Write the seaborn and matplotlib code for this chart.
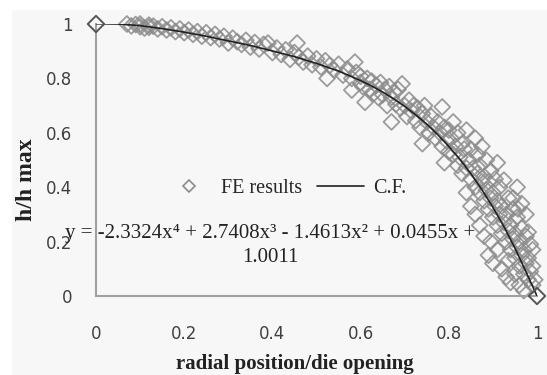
import matplotlib
matplotlib.use("Agg")
import matplotlib.pyplot as plt
import matplotlib.patches as mpatches
from matplotlib.lines import Line2D
import pandas as pd
import seaborn as sns

# FE results
fe_x = [0.07, 0.08, 0.09, 0.10, 0.10, 0.11, 0.12, 0.12, 0.13, 0.14, 0.15, 0.16, 0.17, 0.18,
        0.19, 0.20, 0.21, 0.22, 0.23, 0.24, 0.25, 0.26, 0.27, 0.28, 0.29, 0.30, 0.31, 0.32,
        0.33, 0.34, 0.35, 0.36, 0.37, 0.38, 0.39, 0.40, 0.41, 0.42, 0.43, 0.44, 0.45, 0.456,
        0.46, 0.47, 0.48, 0.49, 0.50, 0.51, 0.52, 0.524, 0.53, 0.54, 0.55, 0.56, 0.57, 0.58,
        0.58, 0.587, 0.59, 0.60, 0.60,
        0.605, 0.61, 0.615, 0.62, 0.625, 0.63, 0.635, 0.64, 0.645, 0.65, 0.655, 0.66, 0.665,
        0.67, 0.67, 0.675, 0.68, 0.685, 0.69, 0.694, 0.70, 0.705, 0.71, 0.715, 0.72, 0.725,
        0.73, 0.735, 0.74, 0.74, 0.745, 0.75, 0.755, 0.76, 0.765, 0.77, 0.775, 0.78, 0.785,
        0.785, 0.79, 0.79, 0.795, 0.80, 0.80,
        0.805, 0.81, 0.81, 0.815, 0.82, 0.82, 0.825, 0.83, 0.83, 0.835, 0.84, 0.84, 0.845,
        0.85, 0.85, 0.855, 0.86, 0.86, 0.865, 0.865, 0.87, 0.87, 0.875, 0.875, 0.88, 0.88,
        0.885, 0.885, 0.89, 0.89, 0.895, 0.895, 0.90, 0.90, 0.905, 0.905, 0.91, 0.91, 0.915,
        0.915, 0.92, 0.92, 0.925, 0.925, 0.93, 0.93, 0.935, 0.935, 0.94, 0.94, 0.945, 0.945,
        0.95, 0.95, 0.955, 0.955, 0.96, 0.96, 0.965, 0.965, 0.97, 0.97, 0.975, 0.975, 0.98,
        0.98, 0.985, 0.985, 0.99, 0.99, 0.995,
        0.86, 0.87, 0.88, 0.89, 0.895, 0.90, 0.91, 0.92, 0.93, 0.935, 0.94, 0.95, 0.96, 0.97,
        0.84, 0.85, 0.98, 0.975, 0.965, 0.955, 0.99, 0.91, 0.946, 0.957]
fe_y = [1.000, 0.993, 0.998, 0.990, 1.000, 0.985, 0.996, 0.988, 0.992, 0.982, 0.990, 0.978,
        0.986, 0.972, 0.982, 0.968, 0.978, 0.962, 0.972, 0.955, 0.968, 0.950, 0.962, 0.945,
        0.955, 0.930, 0.948, 0.935,
        0.925, 0.940, 0.915, 0.932, 0.908, 0.925, 0.930, 0.895, 0.912, 0.888, 0.905, 0.870,
        0.895, 0.930, 0.878, 0.860, 0.882, 0.850, 0.872, 0.842, 0.865, 0.800, 0.848, 0.830,
        0.852, 0.812, 0.835, 0.800, 0.757, 0.860, 0.822, 0.785, 0.808,
        0.770, 0.712, 0.800, 0.760, 0.790, 0.745, 0.775, 0.730, 0.785, 0.740, 0.760, 0.700,
        0.770, 0.640, 0.730, 0.750, 0.705, 0.760, 0.690, 0.780, 0.700, 0.660, 0.720, 0.680,
        0.700, 0.645, 0.690, 0.620, 0.560, 0.670, 0.700, 0.640, 0.600, 0.660, 0.620, 0.580,
        0.640, 0.600, 0.695, 0.550, 0.490, 0.620, 0.570, 0.530, 0.610,
        0.580, 0.520, 0.640, 0.550, 0.480, 0.600, 0.510, 0.560, 0.450, 0.540, 0.470, 0.610,
        0.500, 0.430, 0.540, 0.470, 0.400, 0.580, 0.450, 0.520, 0.380, 0.480, 0.420, 0.550,
        0.350, 0.440, 0.390, 0.500, 0.320, 0.420, 0.360, 0.460, 0.290, 0.380, 0.330, 0.430,
        0.260, 0.350, 0.300, 0.400, 0.230, 0.330, 0.270, 0.426, 0.200, 0.300, 0.240, 0.360,
        0.170, 0.260, 0.210, 0.320, 0.140, 0.230, 0.180, 0.290, 0.110, 0.200, 0.150, 0.250,
        0.080, 0.170, 0.120, 0.220, 0.060, 0.140, 0.090, 0.190, 0.040, 0.110, 0.060,
        0.300, 0.260, 0.220, 0.150, 0.200, 0.120, 0.170, 0.100, 0.070, 0.130, 0.050, 0.080,
        0.040, 0.020,
        0.380, 0.330, 0.235, 0.300, 0.340, 0.400, 0.170, 0.490, 0.360, 0.320]

# end points drawn darker
end_x = [0.0, 1.0]
end_y = [1.0, 0.0]

# curve fit (C.F.)
cf_x = [0, 0.05, 0.1, 0.15, 0.2, 0.25, 0.3, 0.35, 0.4, 0.45, 0.5, 0.55, 0.6, 0.625, 0.65,
        0.675, 0.7, 0.725, 0.75, 0.775, 0.8, 0.825, 0.85, 0.875, 0.9, 0.925, 0.95, 0.975, 1.0]
cf_y = [1.001, 1.000, 0.994, 0.983, 0.970, 0.955, 0.938, 0.921, 0.901, 0.880, 0.855, 0.827,
        0.792, 0.772, 0.750, 0.725, 0.697, 0.666, 0.632, 0.593, 0.550, 0.503, 0.450, 0.391,
        0.326, 0.255, 0.176, 0.089, 0.0]

ticks = [0, 0.2, 0.4, 0.6, 0.8, 1]
tick_labels = ["0", "0.2", "0.4", "0.6", "0.8", "1"]

sns.set_theme(style="white")
plt.rcParams["font.family"] = ["DejaVu Sans"]
SERIF = ["Liberation Serif", "DejaVu Serif"]
BG = "#f7f7f7"

fig = plt.figure(figsize=(5.47, 3.75), dpi=100)
fig.patch.set_facecolor("white")
fig.patches.append(mpatches.Rectangle((12 / 547, 0), 1, 1 - 10 / 375, transform=fig.transFigure,
                                      facecolor=BG, edgecolor="none", zorder=-10))
ax = fig.add_axes([96 / 547, 1 - 296 / 375, 441 / 547, 272 / 375])
ax.set_facecolor(BG)

fe = pd.DataFrame({"x": fe_x, "y": fe_y})
cf = pd.DataFrame({"x": cf_x, "y": cf_y})

sns.scatterplot(data=fe, x="x", y="y", marker="D", s=65, facecolor="none",
                edgecolor="#8c8c8c", linewidth=1.3, alpha=0.85, ax=ax, clip_on=False, zorder=2)
sns.scatterplot(x=end_x, y=end_y, marker="D", s=70, facecolor="none",
                edgecolor="#555555", linewidth=1.4, ax=ax, clip_on=False, zorder=4)
sns.lineplot(data=cf, x="x", y="y", color="#222222", linewidth=1.2, ax=ax, zorder=3)

ax.set_xlim(0, 1)
ax.set_ylim(0, 1)
ax.set_xticks(ticks)
ax.set_xticklabels(tick_labels)
ax.set_yticks(ticks)
ax.set_yticklabels(tick_labels)
ax.tick_params(axis="x", length=0, pad=21, labelsize=12, labelcolor="#404040")
ax.tick_params(axis="y", length=0, pad=17, labelsize=12, labelcolor="#404040")
for side in ["top", "right"]:
    ax.spines[side].set_visible(False)
for side in ["left", "bottom"]:
    ax.spines[side].set_color("#a0a0a0")
    ax.spines[side].set_linewidth(1.5)

ax.set_xlabel("radial position/die opening", fontsize=15, fontweight="bold",
              family=SERIF, color="#222222")
ax.set_ylabel("h/h max", fontsize=17, fontweight="bold", family=SERIF, color="#222222")
ax.xaxis.set_label_coords((295 - 96) / 441, (296 - 354) / 272)
ax.yaxis.set_label_coords((37 - 96) / 441, (296 - 180) / 272)

handles = [Line2D([], [], marker="D", linestyle="none", markersize=6, markerfacecolor="none",
                  markeredgecolor="#8c8c8c", markeredgewidth=1.2),
           Line2D([], [], color="#222222", linewidth=1.2)]
ax.legend(handles, ["FE results", "C.F."], loc="center", ncol=2, frameon=False,
          bbox_to_anchor=((286 - 96) / 441, (296 - 188) / 272), handlelength=2.3,
          columnspacing=0.75, handletextpad=0.45, borderpad=0.2,
          prop={"family": SERIF, "size": 14.5})

ax.text((270 - 96) / 441, (296 - 245.5) / 272,
        "y = -2.3324x\u2074 + 2.7408x\u00b3 - 1.4613x\u00b2 + 0.0455x +\n1.0011",
        transform=ax.transAxes, ha="center", va="center", family=SERIF, fontsize=15,
        color="#222222", linespacing=1.3, zorder=5)

fig.savefig("out.png", dpi=100)
